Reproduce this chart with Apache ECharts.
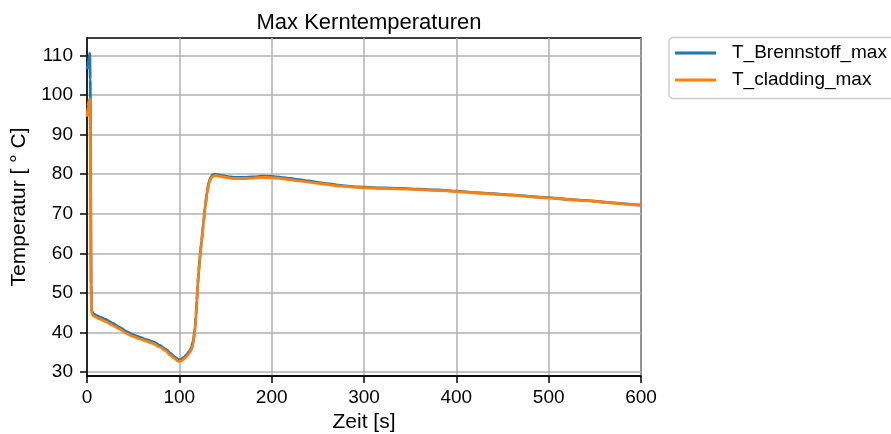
<!DOCTYPE html>
<html>
<head>
<meta charset="utf-8">
<script src="https://cdn.jsdelivr.net/npm/echarts@6/dist/echarts.min.js"></script>
<style>html,body{margin:0;padding:0;background:#fff;}#c{width:891px;height:434px;}</style>
</head>
<body>
<div id="c"></div>
<script>
const time = [0, 1, 2, 3, 3.5, 4, 4.5, 5, 7, 10, 14, 20, 28, 35, 43, 50, 57, 64, 72, 79, 85, 90, 95, 99, 102, 105, 108, 111, 113, 115, 117, 118, 119, 120, 121, 122, 124, 126, 128, 130, 132, 134, 136, 138, 141, 145, 150, 155, 160, 165, 170, 180, 190, 200, 210, 220, 230, 240, 250, 260, 270, 280, 290, 300, 320, 340, 360, 380, 400, 420, 440, 460, 480, 500, 520, 540, 560, 580, 600];
const tBrennstoffMax = [106.5, 107.5, 109, 110.5, 104, 75, 52, 45.4, 44.7, 44.3, 43.9, 43.3, 42.3, 41.3, 40.2, 39.4, 38.8, 38.2, 37.6, 36.7, 35.8, 34.8, 33.8, 33.1, 33.2, 33.7, 34.4, 35.3, 36.2, 37.8, 41.2, 44.2, 48.2, 52.3, 55.5, 58.5, 63, 67.5, 72, 75.5, 78, 79.2, 79.8, 80.0, 79.9, 79.7, 79.5, 79.3, 79.2, 79.2, 79.2, 79.3, 79.5, 79.4, 79.2, 78.9, 78.6, 78.3, 77.9, 77.6, 77.3, 77.0, 76.8, 76.7, 76.5, 76.4, 76.2, 76.0, 75.7, 75.35, 75.05, 74.75, 74.35, 74.05, 73.65, 73.35, 72.95, 72.55, 72.15];
const tCladdingMax = [94.5, 97, 98.5, 99, 92, 68, 50, 44.8, 44.2, 43.8, 43.4, 42.8, 41.8, 40.9, 39.7, 39.0, 38.4, 37.8, 37.2, 36.3, 35.4, 34.3, 33.4, 32.7, 32.8, 33.3, 33.9, 34.8, 35.6, 37.0, 40.5, 43.5, 47.5, 51.8, 55, 58, 62.5, 67, 71.5, 75, 77.5, 78.8, 79.4, 79.6, 79.6, 79.4, 79.2, 79.0, 78.9, 78.9, 78.9, 79.0, 79.2, 79.1, 78.9, 78.6, 78.3, 78.0, 77.7, 77.4, 77.1, 76.9, 76.7, 76.6, 76.4, 76.3, 76.1, 75.9, 75.6, 75.3, 75.0, 74.7, 74.3, 74.0, 73.6, 73.3, 72.9, 72.5, 72.1];
const xTicks = [0, 100, 200, 300, 400, 500, 600];
const yTicks = [30, 40, 50, 60, 70, 80, 90, 100, 110];
const seriesNames = ['T_Brennstoff_max', 'T_cladding_max'];

const font = "'Liberation Sans', Arial, sans-serif";
const pairs = arr => time.map((t, i) => [t, arr[i]]);

const chart = echarts.init(document.getElementById('c'), null, {renderer: 'canvas'});
chart.setOption({
  animation: false,
  backgroundColor: '#fff',
  title: {
    text: 'Max Kerntemperaturen',
    left: 364, top: 7, textAlign: 'center',
    textStyle: {fontFamily: font, fontSize: 22, fontWeight: 'normal', color: '#000'}
  },
  graphic: [{
    type: 'rect', z: 0,
    shape: {x: 669, y: 37.5, width: 260, height: 61, r: 4},
    style: {fill: '#fff', stroke: '#cccccc', lineWidth: 1.5}
  }],
  legend: {
    orient: 'vertical', left: 675, top: 43.5, padding: 0,
    itemWidth: 41, itemHeight: 2.8, itemGap: 8, icon: 'rect',
    textStyle: {fontFamily: font, fontSize: 19, color: '#000', lineHeight: 19, padding: [0, 0, 0, 11]},
    data: seriesNames
  },
  grid: {left: 87, right: 250, top: 38, bottom: 58, show: true, borderColor: '#000', borderWidth: 1.5,
         backgroundColor: 'transparent', containLabel: false, outerBoundsMode: 'none'},
  xAxis: {
    type: 'value', min: 0, max: 600, interval: 100,
    name: 'Zeit [s]', nameLocation: 'middle', nameGap: 35,
    nameTextStyle: {fontFamily: font, fontSize: 21, color: '#000'},
    axisLine: {show: true, lineStyle: {color: '#000', width: 1.5}},
    axisTick: {show: true, length: 7, lineStyle: {color: '#000', width: 1.5}, customValues: xTicks},
    axisLabel: {fontFamily: font, fontSize: 19, color: '#000', margin: 12, customValues: xTicks},
    splitLine: {show: true, lineStyle: {color: '#b0b0b0', width: 1.5}}
  },
  yAxis: {
    type: 'value', min: 29, max: 114.4,
    name: 'Temperatur [ ° C]', nameLocation: 'middle', nameGap: 57,
    nameTextStyle: {fontFamily: font, fontSize: 21, color: '#000'},
    axisLine: {show: true, lineStyle: {color: '#000', width: 1.5}},
    axisTick: {show: true, length: 7, lineStyle: {color: '#000', width: 1.5}, customValues: yTicks},
    axisLabel: {fontFamily: font, fontSize: 19, color: '#000', margin: 14, customValues: yTicks},
    splitLine: {show: true, lineStyle: {color: '#b0b0b0', width: 1.5}}
  },
  series: [
    {name: seriesNames[0], type: 'line', data: pairs(tBrennstoffMax), showSymbol: false, symbol: 'none', smooth: 0.2, smoothMonotone: 'x',
     color: '#1f77b4', lineStyle: {color: '#1f77b4', width: 2.8}, z: 2},
    {name: seriesNames[1], type: 'line', data: pairs(tCladdingMax), showSymbol: false, symbol: 'none', smooth: 0.2, smoothMonotone: 'x',
     color: '#ff7f0e', lineStyle: {color: '#ff7f0e', width: 2.8}, z: 3}
  ]
});
</script>
</body>
</html>
